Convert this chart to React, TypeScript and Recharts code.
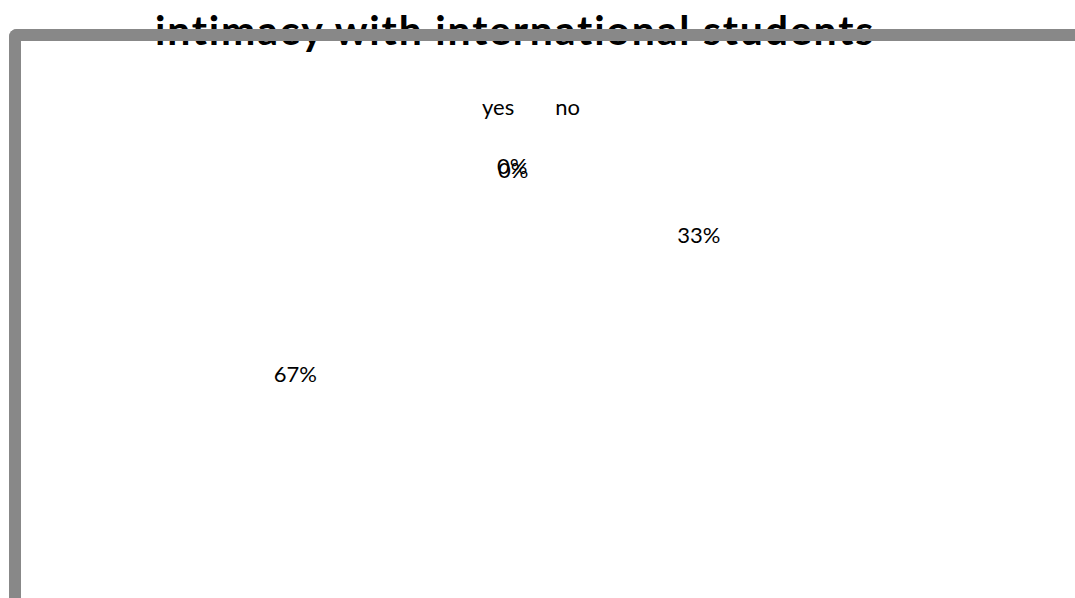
import { Cell, Legend, Pie, PieChart } from "recharts";

const categories = ["yes", "no", "", ""];
const values = [1, 2, 0, 0];
const legendNames = ["yes", "no"];

const data = categories.map((name, i) => ({ name, value: values[i] }));

const RAD = Math.PI / 180;
const FONT = "Lato, 'Open Sans', sans-serif";

const renderLabel = (props: any) => {
  const { cx, cy, midAngle, percent, index } = props;
  // labels sit on an ellipse around the pie, like the original's best-fit placement
  const rx = 208;
  const ry = 139;
  const cos = Math.cos(-midAngle * RAD);
  const x = cx + rx * cos + (index === 3 ? 1 : 0);
  const y = cy + ry * Math.sin(-midAngle * RAD) + (index === 3 ? 4 : 0);
  return (
    <text
      x={x}
      y={y}
      textAnchor={cos > -1e-6 ? "start" : "end"}
      dominantBaseline="central"
      fontFamily={FONT}
      fontSize={22}
      fill="#000"
    >
      {`${Math.round(percent * 100)}%`}
    </text>
  );
};

const renderLegend = () => (
  <div
    style={{
      display: "flex",
      paddingLeft: 462,
      fontFamily: FONT,
      fontSize: 22,
      lineHeight: "28px",
      height: 28,
      color: "#000",
    }}
  >
    {legendNames.map((n) => (
      <span key={n} style={{ display: "inline-flex", alignItems: "center", marginRight: 21 }}>
        <span style={{ display: "inline-block", width: 20 }} />
        {n}
      </span>
    ))}
  </div>
);

export default function App() {
  return (
    <div style={{ position: "absolute", left: 0, top: 0, width: 1075, height: 598, background: "#fff", overflow: "hidden" }}>
      <div
        style={{
          position: "absolute",
          left: 0,
          top: 6,
          width: 1030,
          textAlign: "center",
          fontFamily: FONT,
          fontWeight: 700,
          fontSize: 41,
          letterSpacing: 1.8,
          lineHeight: "48px",
          color: "#000",
        }}
      >
        intimacy with international students
      </div>
      <div
        style={{
          position: "absolute",
          left: 9,
          top: 29,
          width: 1200,
          height: 800,
          borderTop: "12px solid #888",
          borderLeft: "12px solid #888",
          borderTopLeftRadius: 8,
          boxSizing: "border-box",
          zIndex: 2,
        }}
      />
      <div style={{ position: "absolute", left: 0, top: 0 }}>
        <PieChart width={1075} height={598}>
          <Legend
            verticalAlign="top"
            content={renderLegend}
            wrapperStyle={{ top: 93, left: 0, width: 1075 }}
          />
          <Pie
            data={data}
            dataKey="value"
            nameKey="name"
            cx={492}
            cy={271}
            outerRadius={200}
            startAngle={90}
            endAngle={-270}
            stroke="none"
            label={renderLabel}
            labelLine={false}
            isAnimationActive={false}
          >
            {data.map((d, i) => (
              <Cell key={i} fill="transparent" />
            ))}
          </Pie>
        </PieChart>
      </div>
    </div>
  );
}
